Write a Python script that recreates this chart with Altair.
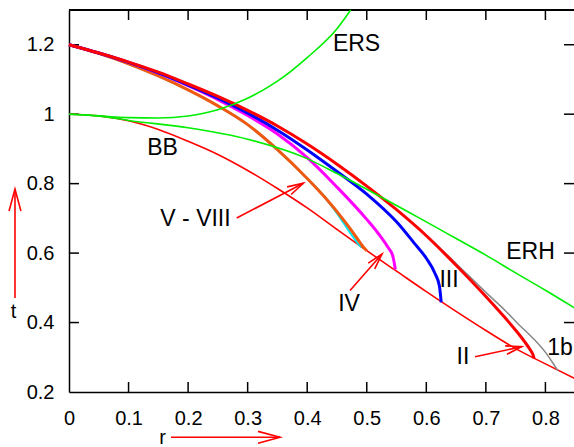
import math
import altair as alt
import pandas as pd

# ---------------- data ----------------
bb_r = [0.0, 0.05, 0.1, 0.15, 0.2, 0.25, 0.3, 0.35, 0.4, 0.45, 0.5, 0.55, 0.6, 0.65, 0.7, 0.75, 0.8, 0.85]
bb_t = [1.0, 0.995, 0.981, 0.956, 0.922, 0.884, 0.838, 0.786, 0.73, 0.668, 0.607, 0.548, 0.489, 0.432, 0.377, 0.325, 0.281, 0.238]

ers_r = [0.0, 0.05, 0.1, 0.15, 0.2, 0.25, 0.3, 0.35, 0.4, 0.45, 0.473]
ers_t = [1.0, 0.995, 0.99, 0.989, 0.995, 1.013, 1.046, 1.095, 1.163, 1.246, 1.3]

erh_r = [0.0, 0.05, 0.1, 0.2, 0.3, 0.4, 0.45, 0.5, 0.55, 0.6, 0.65, 0.7, 0.75, 0.8, 0.85]
erh_t = [1.0, 0.995, 0.982, 0.961, 0.928, 0.872, 0.829, 0.784, 0.737, 0.69, 0.642, 0.594, 0.543, 0.493, 0.441]

ii_r = [0.0, 0.05, 0.1, 0.15, 0.2, 0.25, 0.3, 0.35, 0.4, 0.45, 0.5, 0.55, 0.6, 0.65, 0.7, 0.73, 0.75, 0.765, 0.775, 0.779, 0.781]
ii_t = [1.2, 1.176, 1.15, 1.121, 1.087, 1.051, 1.011, 0.966, 0.914, 0.856, 0.793, 0.725, 0.65, 0.565, 0.475, 0.418, 0.378, 0.345, 0.32, 0.308, 0.297]

g1b_r = [0.0, 0.05, 0.1, 0.15, 0.2, 0.25, 0.3, 0.35, 0.4, 0.45, 0.5, 0.55, 0.6, 0.65, 0.7, 0.734, 0.756, 0.779, 0.801, 0.812, 0.821]
g1b_t = [1.2, 1.176, 1.15, 1.121, 1.087, 1.051, 1.011, 0.966, 0.914, 0.856, 0.793, 0.725, 0.652, 0.57, 0.487, 0.432, 0.393, 0.355, 0.312, 0.285, 0.261]

iii_r = [0.0, 0.05, 0.1, 0.15, 0.2, 0.25, 0.3, 0.35, 0.4, 0.45, 0.5, 0.55, 0.58, 0.6, 0.615, 0.622, 0.625]
iii_t = [1.2, 1.176, 1.149, 1.119, 1.084, 1.046, 1.003, 0.954, 0.897, 0.835, 0.77, 0.69, 0.628, 0.585, 0.54, 0.505, 0.458]

iv_r = [0.0, 0.05, 0.1, 0.15, 0.2, 0.25, 0.3, 0.35, 0.4, 0.45, 0.5, 0.52, 0.535, 0.544, 0.548]
iv_t = [1.2, 1.176, 1.149, 1.118, 1.082, 1.042, 0.996, 0.943, 0.875, 0.79, 0.697, 0.655, 0.618, 0.59, 0.553]

v_r = [0.0, 0.05, 0.1, 0.15, 0.2, 0.25, 0.3, 0.35, 0.4, 0.43, 0.46, 0.48, 0.49, 0.496, 0.5]
v_t = [1.2, 1.175, 1.145, 1.11, 1.07, 1.024, 0.97, 0.898, 0.815, 0.76, 0.698, 0.652, 0.627, 0.614, 0.607]

cy_r = [0.0, 0.05, 0.1, 0.15, 0.2, 0.25, 0.3, 0.35, 0.4, 0.43, 0.44, 0.46, 0.475, 0.485, 0.491]
cy_t = [1.2, 1.175, 1.145, 1.11, 1.07, 1.024, 0.97, 0.898, 0.815, 0.76, 0.738, 0.69, 0.652, 0.628, 0.617]

x_ticks = [0, 0.1, 0.2, 0.3, 0.4, 0.5, 0.6, 0.7, 0.8]
y_ticks = [0.2, 0.4, 0.6, 0.8, 1.0, 1.2]

label_text = ["ERS", "BB", "V - VIII", "IV", "III", "ERH", "II", "1b"]
label_r = [0.4828, 0.157, 0.2124, 0.4702, 0.6381, 0.775, 0.6616, 0.8245]
label_t = [1.2021, 0.9012, 0.6996, 0.4534, 0.5225, 0.6031, 0.3022, 0.3267]

arrow_tail_r = [0.2816, 0.4719, 0.6818]
arrow_tail_t = [0.701, 0.4923, 0.3017]
arrow_tip_r = [0.3935, 0.5256, 0.7602]
arrow_tip_t = [0.801, 0.5974, 0.3304]

axis_title_text = ["r", "t"]
axis_title_r = [0.157, -0.0932]
axis_title_t = [0.0661, 0.4304]
axis_arrow_tail_r = [0.1713, -0.0907]
axis_arrow_tail_t = [0.0695, 0.4707]
axis_arrow_tip_r = [0.3543, -0.0907]
axis_arrow_tip_t = [0.0695, 0.7846]

# ---------------- layout / style ----------------
W, H = 505, 382
XMIN, XMAX = 0.0, 0.848
YMIN, YMAX = 0.2, 1.3
FONT = "Liberation Sans"
RED = "#ff0000"

xs = alt.Scale(domain=[XMIN, XMAX], nice=False, zero=False)
ys = alt.Scale(domain=[YMIN, YMAX], nice=False, zero=False)

X_AX = alt.Axis(values=x_ticks, format="~g", ticks=False, labelFont=FONT, labelFontSize=20,
                labelColor="black", labelPadding=16, labelFlush=False, domainColor="black",
                domainWidth=1.5, grid=False, title=None)
Y_AX = alt.Axis(values=y_ticks, format="~g", ticks=False, labelFont=FONT, labelFontSize=20,
                labelColor="black", labelPadding=15, labelFlush=False, domainColor="black",
                domainWidth=1.5, grid=False, title=None)


def X(field):
    return alt.X(field, type="quantitative", scale=xs, axis=X_AX)


def Y(field):
    return alt.Y(field, type="quantitative", scale=ys, axis=Y_AX)


def to_px(r, t):
    return (r - XMIN) / (XMAX - XMIN) * W, (YMAX - t) / (YMAX - YMIN) * H


def curve(rv, tv, color, width):
    df = pd.DataFrame({"r": rv, "t": tv, "i": list(range(len(rv)))})
    return alt.Chart(df).mark_line(color=color, strokeWidth=width, strokeJoin="round",
                                   interpolate="monotone", strokeCap="butt").encode(
        x=X("r"), y=Y("t"), order="i:Q")


def arrows(tail_r, tail_t, tip_r, tip_t, head_len, width):
    ang = []
    for a, b, c, d in zip(tail_r, tail_t, tip_r, tip_t):
        x0, y0 = to_px(a, b)
        x1, y1 = to_px(c, d)
        ang.append(math.degrees(math.atan2(x1 - x0, -(y1 - y0))) % 360)
    df = pd.DataFrame({"r": tail_r, "t": tail_t, "r2": tip_r, "t2": tip_t, "ang": ang})
    shaft = alt.Chart(df).mark_rule(color=RED, strokeWidth=width).encode(
        x=X("r"), y=Y("t"), x2="r2:Q", y2="t2:Q")
    head = alt.Chart(df).mark_point(shape="M-0.27,1L0,0L0.27,1", filled=False, color=RED,
                                    opacity=1, strokeWidth=width, size=(2 * head_len) ** 2).encode(
        x=X("r2"), y=Y("t2"), angle=alt.Angle("ang:Q", scale=None))
    return shaft + head


layers = []

# frame: top border and inward ticks
tick_x_df = pd.DataFrame({"v": x_ticks[1:]})
tick_y_df = pd.DataFrame({"v": y_ticks[1:]})
layers.append(alt.Chart(tick_x_df).mark_rule(color="black", strokeWidth=1.5).encode(
    x=alt.value(0), x2=alt.value(W), y=alt.value(0)))
layers.append(alt.Chart(tick_x_df).mark_rule(color="black", strokeWidth=1.5).encode(
    x=X("v"), y=alt.value(H), y2=alt.value(H - 10)))
layers.append(alt.Chart(tick_x_df).mark_rule(color="black", strokeWidth=1.5).encode(
    x=X("v"), y=alt.value(0), y2=alt.value(10)))
layers.append(alt.Chart(tick_y_df).mark_rule(color="black", strokeWidth=1.5).encode(
    y=Y("v"), x=alt.value(0), x2=alt.value(10)))
layers.append(alt.Chart(tick_y_df).mark_rule(color="black", strokeWidth=1.5).encode(
    y=Y("v"), x=alt.value(W), x2=alt.value(W - 10)))

# curves
layers.append(curve(bb_r, bb_t, RED, 1.6))
layers.append(curve(g1b_r, g1b_t, "#888888", 1.5))
layers.append(curve(cy_r, cy_t, "#00e5ee", 2.2))
layers.append(curve(v_r, v_t, "#f05a10", 3))
layers.append(curve(iv_r, iv_t, "#ff00ff", 3))
layers.append(curve(iii_r, iii_t, "#0000ff", 3))
layers.append(curve(ii_r, ii_t, RED, 3))
layers.append(curve(ers_r, ers_t, "#00ee00", 1.6))
layers.append(curve(erh_r, erh_t, "#00ee00", 1.6))

# labels
lab_df = pd.DataFrame({"r": label_r, "t": label_t, "txt": label_text})
layers.append(alt.Chart(lab_df).mark_text(font=FONT, fontSize=23, color="black", align="center",
                                          baseline="middle").encode(x=X("r"), y=Y("t"), text="txt:N"))

# annotation arrows
layers.append(arrows(arrow_tail_r, arrow_tail_t, arrow_tip_r, arrow_tip_t, 16, 1.6))

# axis titles and their arrows
ax_df = pd.DataFrame({"r": axis_title_r, "t": axis_title_t, "txt": axis_title_text})
layers.append(alt.Chart(ax_df).mark_text(font=FONT, fontSize=20, color="black", align="center",
                                         baseline="middle").encode(x=X("r"), y=Y("t"), text="txt:N"))
layers.append(arrows(axis_arrow_tail_r, axis_arrow_tail_t, axis_arrow_tip_r, axis_arrow_tip_t, 22, 1.6))

chart = alt.layer(*layers).properties(
    width=W, height=H,
    autosize=alt.AutoSizeParams(type="none"),
    padding={"left": 69, "top": 10, "right": 0, "bottom": 55},
    background="white",
).configure_view(stroke=None)

chart.save("out.html", embed_options={"renderer": "svg", "actions": False})
